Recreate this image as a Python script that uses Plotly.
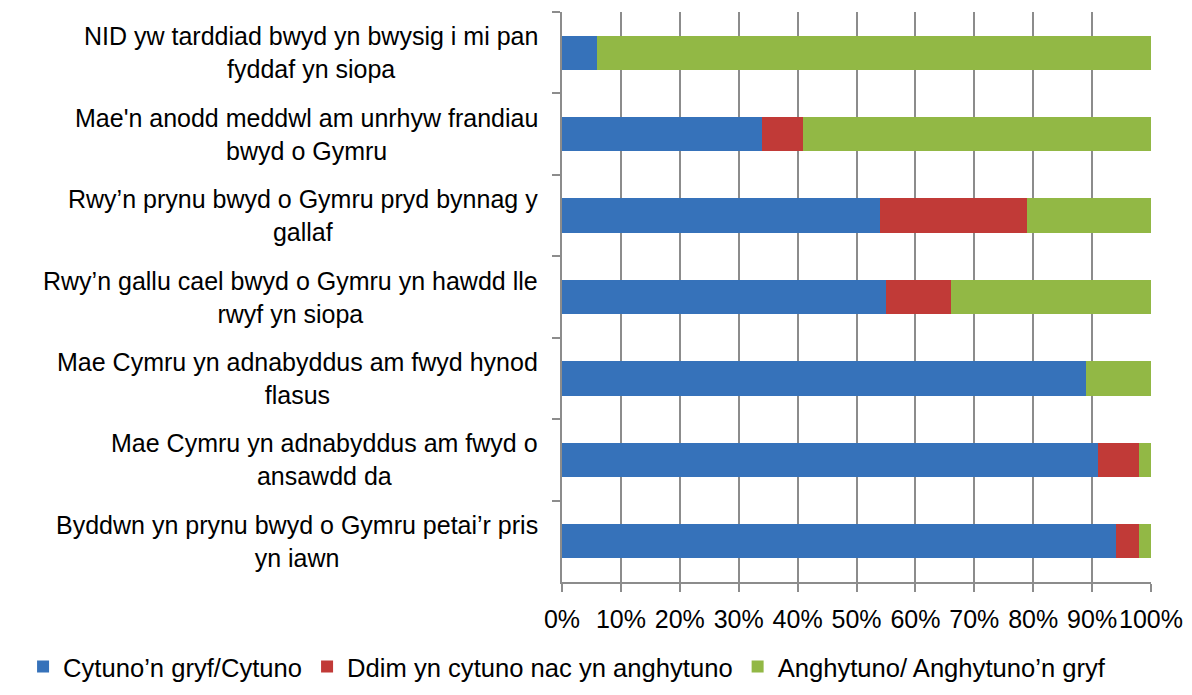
import plotly.graph_objects as go

categories = [
    "NID yw tarddiad bwyd yn bwysig i mi pan<br>fyddaf yn siopa",
    "Mae'n anodd meddwl am unrhyw frandiau<br>bwyd o Gymru",
    "Rwy’n prynu bwyd o Gymru pryd bynnag y<br>gallaf",
    "Rwy’n gallu cael bwyd o Gymru yn hawdd lle<br>rwyf yn siopa",
    "Mae Cymru yn adnabyddus am fwyd hynod<br>flasus",
    "Mae Cymru yn adnabyddus am fwyd o<br>ansawdd da",
    "Byddwn yn prynu bwyd o Gymru petai’r pris<br>yn iawn",
]
agree = [6, 34, 54, 55, 89, 91, 94]
neutral = [0, 7, 25, 11, 0, 7, 4]
disagree = [94, 59, 21, 34, 11, 2, 2]

series_names = ["Cytuno’n gryf/Cytuno", "Ddim yn cytuno nac yn anghytuno", "Anghytuno/ Anghytuno’n gryf"]
colors = ["#3672BA", "#C13A37", "#92B845"]
tick_vals = [0, 10, 20, 30, 40, 50, 60, 70, 80, 90, 100]
tick_text = [f"{v}%" for v in tick_vals]

FONT = "Liberation Sans, Arial, sans-serif"
FS = 25

fig = go.Figure()
for name, vals, col in zip(series_names, [agree, neutral, disagree], colors):
    fig.add_trace(go.Bar(
        y=categories, x=vals, name=name, orientation="h",
        marker=dict(color=col, line=dict(width=0)),
        hoverinfo="x+name",
    ))

for cat in categories:
    fig.add_annotation(
        x=0, xref="paper", y=cat, yref="y", text=cat, showarrow=False,
        xanchor="right", yanchor="middle", align="center", xshift=-22,
        font=dict(family=FONT, size=FS, color="#000000"),
    )

fig.update_layout(
    width=1192, height=695,
    barmode="stack", bargap=0.58,
    plot_bgcolor="white", paper_bgcolor="white",
    margin=dict(l=554, r=49, t=4, b=121, autoexpand=False),
    font=dict(family=FONT, size=FS, color="#000000"),
    showlegend=True,
    legend=dict(
        orientation="h", xref="paper", yref="paper",
        x=-0.915, y=-0.149, xanchor="left", yanchor="middle",
        font=dict(family=FONT, size=25.6, color="#000000"),
        itemwidth=30, traceorder="normal", tracegroupgap=0,
    ),
    xaxis=dict(
        range=[0, 100], tickvals=tick_vals, ticktext=tick_text, tickangle=0,
        showgrid=True, gridcolor="#8C8C8C", gridwidth=2,
        showline=True, linecolor="#8C8C8C", linewidth=2,
        ticks="outside", ticklen=8, tickcolor="#8C8C8C", tickwidth=2,
        ticklabelstandoff=6, zeroline=False,
        tickfont=dict(family=FONT, size=FS, color="#000000"),
        fixedrange=True,
    ),
    yaxis=dict(
        autorange="reversed", showticklabels=False,
        showline=True, linecolor="#8C8C8C", linewidth=2,
        ticks="outside", ticklen=8, tickcolor="#8C8C8C", tickwidth=2,
        tickson="boundaries", showgrid=False, fixedrange=True,
    ),
)

fig.write_html("out.html")
